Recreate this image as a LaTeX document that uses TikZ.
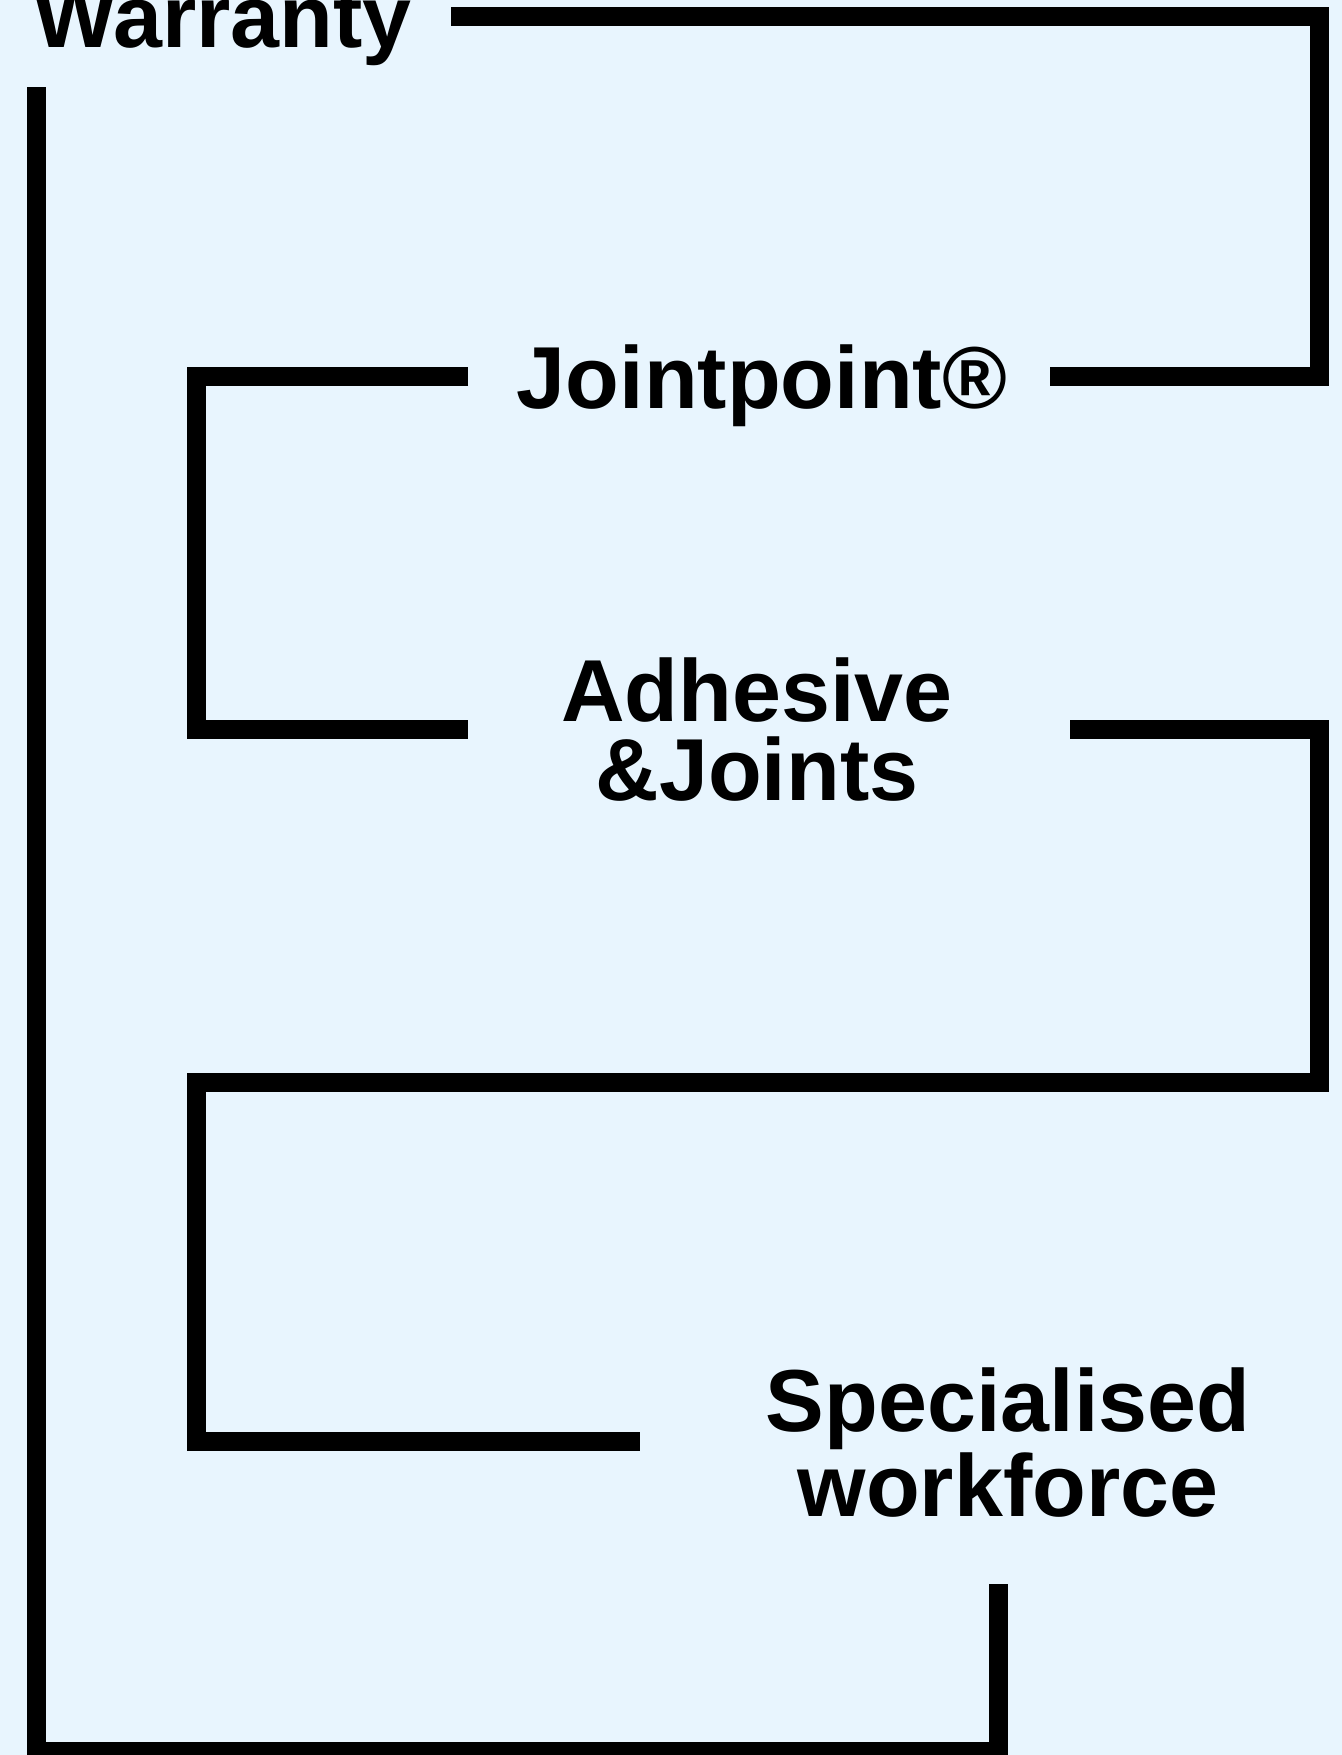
\documentclass[tikz,border=0pt]{standalone}
\usepackage{fontspec}
\setmainfont{Liberation Sans}
\definecolor{bgblue}{RGB}{232,245,254}

\begin{document}
\begin{tikzpicture}[
  x=0.5pt,y=-0.5pt,
  wall/.style={draw=black,line width=9.5pt,miter limit=10},
  lbl/.style={inner sep=0pt,align=center,font=\fontsize{44}{39.5}\selectfont\bfseries}
]
% Background
\fill[bgblue] (0,0) rectangle (1342,1755);
\useasboundingbox (0,0) rectangle (1342,1755);

% Labels
\node[lbl,anchor=base west] (warranty) at (33,48) {Warranty};
\node[lbl,anchor=base] (joint) at (762,408) {Jointpoint®};
\node[lbl,anchor=base] (adhesive) at (757,800) {Adhesive\\\&Joints};
\node[lbl,anchor=base] (workforce) at (1008,1516) {Specialised\\workforce};

% Maze walls
\draw[wall] (451,16.5) -- (1319,16.5) -- (1319,376.5) -- (1050,376.5);
\draw[wall] (468,376.5) -- (196,376.5) -- (196,729.5) -- (468,729.5);
\draw[wall] (1070,729) -- (1319,729) -- (1319,1082) -- (196,1082) -- (196,1441) -- (640,1441);
\draw[wall] (998.5,1584) -- (998.5,1751) -- (36.5,1751) -- (36.5,87);
\end{tikzpicture}
\end{document}
